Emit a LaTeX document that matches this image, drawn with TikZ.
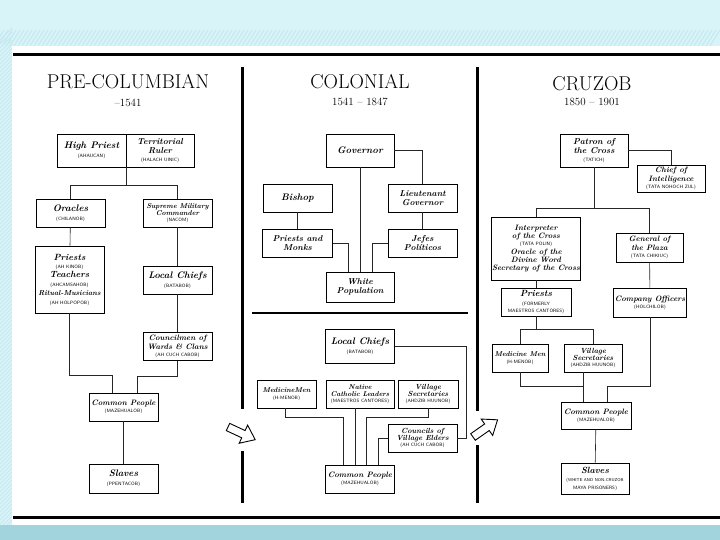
\documentclass[tikz,border=0pt]{standalone}
\usepackage{tikz}
\usetikzlibrary{positioning}
\definecolor{slidesky}{RGB}{216,244,248}
\definecolor{slideband}{RGB}{162,212,222}
\definecolor{slidestripe}{RGB}{196,232,240}
\newcommand{\gl}[1]{{\fontsize{4.7}{5.2}\selectfont\mdseries\upshape\sffamily #1}}

\begin{document}
\begin{tikzpicture}[x=1pt,y=-1pt,
      box/.style={draw, line width=0.9pt, fill=white, align=center, inner sep=1pt,
        minimum width=69pt, minimum height=28pt, font=\fontsize{7.8}{8.3}\selectfont\bfseries\itshape},
      big/.style={font=\fontsize{9.5}{10}\selectfont\bfseries\itshape},
      link/.style={line width=0.6pt, black!85},
      era/.style={font=\fontsize{20}{22}\selectfont},
      span/.style={font=\fontsize{11}{12}\selectfont},
      rule/.style={line width=3pt},
      turn/.style={draw, line width=0.9pt, fill=white, line join=miter}
    ]
    \useasboundingbox (0,0) rectangle (720,540);
    % slide background
    \fill[slidesky] (0,0) rectangle (720,540);
    \foreach \s in {0,4,...,720} \draw[slidestripe, line width=1pt] (\s,30) -- ++(-10,16);
    \foreach \s in {40,44,...,540} \draw[slidestripe, line width=1pt] (0,\s) -- ++(12,-12);
    \fill[slideband] (0,525) rectangle (720,540);
    \fill[white] (12,46) rectangle (720,525);

    % frame
    \draw[rule] (13,55) -- (720,55);
    \draw[rule] (13,517) -- (720,517);
    \draw[rule] (242,67) -- (242,409);
    \draw[rule] (242,451) -- (242,503);
    \draw[rule] (477,67) -- (477,411);
    \draw[rule] (477,445) -- (477,503);
    \draw[line width=2.5pt] (252,313) -- (468,313);

    % headings
    \node[era] (precol) at (128,82) {PRE-COLUMBIAN};
    \node[span] (precolyr) at (128,103) {--1541};
    \node[era] (colon) at (360,82) {COLONIAL};
    \node[span] (colonyr) at (360,102) {1541 -- 1847};
    \node[era] (cruz) at (592,84) {CRUZOB};
    \node[span] (cruzyr) at (592,102) {1850 -- 1901};

    % pre-columbian
    \node[box, big, minimum height=33pt] (hp) at (91.5,150.5) {High Priest\\[-1pt]\gl{(AHAUCAN)}};
    \node[box, minimum width=68pt, minimum height=33pt, font=\fontsize{8.6}{8.8}\selectfont\bfseries\itshape] (tr) at (160,150.5) {Territorial\\Ruler\\[-1pt]\gl{(HALACH UINIC)}};
    \node[box, big] (orc) at (70.5,213) {Oracles\\[-1pt]\gl{(CHILANOB)}};
    \node[box, font=\fontsize{7}{7}\selectfont\bfseries\itshape] (smc) at (177.5,213) {Supreme Military\\Commander\\[-1pt]\gl{(NACOM)}};
    \node[box, minimum height=67pt, font=\fontsize{9}{9.4}\selectfont\bfseries\itshape] (pri) at (69.5,279.5) {Priests\\[-1pt]\gl{(AH KINOB)}\\Teachers\\[-1pt]\gl{(AHCAMSAHOB)}\\{\fontsize{7.2}{8}\selectfont Ritual-Musicians}\\[-1pt]\gl{(AH HOLPOPOB)}};
    \node[box, big] (lc) at (177.5,280) {Local Chiefs\\[-1pt]\gl{(BATABOB)}};
    \node[box] (cou) at (177.5,346.5) {Councilmen of\\Wards \& Clans\\[-1pt]\gl{(AH CUCH CABOB)}};
    \node[box] (cp) at (123.5,407) {Common People\\[-1pt]\gl{(MAZEHUALOB)}};
    \node[box, big, minimum height=29pt] (sl) at (123.5,478.5) {Slaves\\[-1pt]\gl{(PPENTACOB)}};

    \draw[link] (hp.south east) -- ++(0,18) coordinate (pcj);
    \draw[link] (pcj) -| (orc.north);
    \draw[link] (pcj) -| (smc.north);
    \draw[link] (orc) -- (pri);
    \draw[link] (smc) -- (lc);
    \draw[link] (lc) -- (cou);
    \draw[link] (pri.south) -- ++(0,62) -| ([xshift=-11.5pt]cp.north);
    \draw[link] (cou.south) -- ++(0,15) -| ([xshift=13.5pt]cp.north);
    \draw[link] (cp) -- (sl);

    % colonial, upper
    \node[box, big, minimum width=68pt, minimum height=33pt] (gov) at (360,150.5) {Governor};
    \node[box, font=\fontsize{8.6}{8.8}\selectfont\bfseries\itshape] (ltg) at (422.5,198) {Lieutenant\\Governor};
    \node[box, font=\fontsize{8.6}{8.8}\selectfont\bfseries\itshape] (jef) at (422.5,243) {Jefes\\Pol\'iticos};
    \node[box, big] (bis) at (297.5,198) {Bishop};
    \node[box, minimum width=70pt, font=\fontsize{8.6}{8.8}\selectfont\bfseries\itshape] (pm) at (297.5,243) {Priests and\\Monks};
    \node[box, minimum width=68pt, minimum height=30pt, font=\fontsize{8.6}{8.8}\selectfont\bfseries\itshape] (wp) at (360,287) {White\\Population};

    \draw[link] (gov.east) -| (ltg.north);
    \draw[link] (ltg) -- (jef);
    \draw[link] (bis) -- (pm);
    \draw[link] (gov) -- (wp);
    \draw[link] (pm.east) -| ([xshift=-12pt]wp.north);
    \draw[link] (jef.west) -| ([xshift=12pt]wp.north);

    % colonial, lower
    \node[box, big, minimum height=34pt] (lch) at (360,346) {Local Chiefs\\[-1pt]\gl{(BATABOB)}};
    \node[box, minimum width=59pt, font=\fontsize{7}{7.5}\selectfont\bfseries\itshape] (mm) at (286.5,394) {MedicineMen\\[-1pt]\gl{(H-MENOB)}};
    \node[box, minimum width=68pt, font=\fontsize{7}{7}\selectfont\bfseries\itshape] (ncl) at (360,394) {Native\\Catholic Leaders\\[-1pt]\gl{(MAESTROS CANTORES)}};
    \node[box, minimum width=60pt, font=\fontsize{7.4}{7.4}\selectfont\bfseries\itshape] (vs) at (428,394) {Village\\Secretaries\\[-1pt]\gl{(AHDZIB HUUNOB)}};
    \node[box, font=\fontsize{7.4}{7.4}\selectfont\bfseries\itshape] (cve) at (422.5,438) {Councils of\\Village Elders\\[-1pt]\gl{(AH CUCH CABOB)}};
    \node[box] (cpc) at (360,479) {Common People\\[-1pt]\gl{(MAZEHUALOB)}};

    \draw[link] (lch.east) -| ([xshift=9pt]cve.east) -- (cve.east);
    \draw[link] ([xshift=-1.5pt]mm.south) -- ++(0,9) -| ([xshift=-17pt]cpc.north);
    \draw[link] ([xshift=-5pt]ncl.south) -- ([xshift=-5pt]cpc.north);
    \draw[link] (vs.south) -- ++(0,9) -| ([xshift=6pt]cpc.north);
    \draw[link] (cve.west) -| ([xshift=18pt]cpc.north);

    % cruzob
    \node[box, minimum width=68pt, minimum height=33pt, font=\fontsize{8.6}{8.8}\selectfont\bfseries\itshape] (pat) at (594,150.5) {Patron of\\the Cross\\[-1pt]\gl{(TATICH)}};
    \node[box, minimum width=68pt, minimum height=27pt] (coi) at (671,178.5) {Chief of\\Intelligence\\[-1pt]\gl{(TATA NOHOCH ZUL)}};
    \node[box, minimum width=83pt, minimum height=63pt] (int) at (536,248.5) {Interpreter\\of the Cross\\[-1pt]\gl{(TATA POLIN)}\\Oracle of the\\Divine Word\\Secretary of the Cross};
    \node[box, minimum width=67pt, minimum height=29pt] (gen) at (649.5,247.5) {General of\\the Plaza\\[-1pt]\gl{(TATA CHIKIUC)}};
    \node[box, minimum width=70pt, font=\fontsize{9}{9.5}\selectfont\bfseries\itshape] (pr) at (536,302) {Priests\\[-1pt]\gl{(FORMERLY}\\[-2pt]\gl{MAESTROS CANTORES)}};
    \node[box, minimum width=70pt, minimum height=29pt] (co) at (650,302.5) {Company Officers\\[-1pt]\gl{(HOLCHILOB)}};
    \node[box, minimum width=56pt, font=\fontsize{7}{7.5}\selectfont\bfseries\itshape] (mmc) at (520,358) {Medicine Men\\[-1pt]\gl{(H-MENOB)}};
    \node[box, minimum width=58pt, font=\fontsize{7.4}{7.4}\selectfont\bfseries\itshape] (vsc) at (593,358) {Village\\Secretaries\\[-1pt]\gl{(AHDZIB HUUNOB)}};
    \node[box, minimum width=70pt, minimum height=27pt] (cpz) at (596,415.5) {Common People\\[-1pt]\gl{(MAZEHUALOB)}};
    \node[box, minimum width=68pt, minimum height=31pt, font=\fontsize{9}{9.5}\selectfont\bfseries\itshape] (slz) at (595,478.5) {Slaves\\[-1pt]{\fontsize{4.2}{4.6}\selectfont\mdseries\upshape\sffamily (WHITE AND NON-CRUZOB}\\[-2pt]\gl{MAYA PRISONERS)}};

    \draw[link] (pat.east) -| (coi.north);
    \draw[link] (pat.south) -- ++(0,41) coordinate (czj);
    \draw[link] (czj) -| (int.north);
    \draw[link] (czj) -| (gen.north);
    \draw[link] (int) -- (pr);
    \draw[link] (gen) -- (co);
    \draw[link] (pr.south) -- ++(0,13) coordinate (prj);
    \draw[link] (prj) -| (mmc.north);
    \draw[link] (prj) -| (vsc.north);
    \draw[link] (mmc.south) -- ++(0,14) -| ([xshift=-13pt]cpz.north);
    \draw[link] ([xshift=-10pt]vsc.south) -- ([xshift=-13pt]cpz.north);
    \draw[link] (co.south) -- ++(0,69) -| ([xshift=11pt]cpz.north);
    \draw[link] (cpz) -- (slz);

    % era arrows
    \draw[turn, shift={(228,427)}, rotate=-25] (0,-4) -- (17,-4) -- (17,-10) -- (30,0) -- (17,10) -- (17,4) -- (0,4) -- cycle;
    \draw[turn, shift={(473,437)}, rotate=35] (0,-4) -- (17,-4) -- (17,-10) -- (30,0) -- (17,10) -- (17,4) -- (0,4) -- cycle;
  \end{tikzpicture}
\end{document}
